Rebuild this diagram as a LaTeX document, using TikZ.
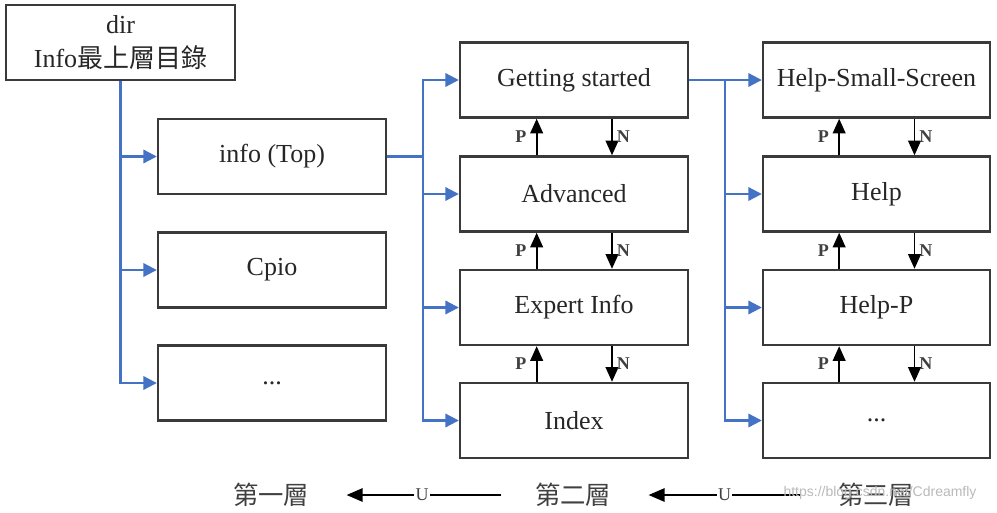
\documentclass[tikz,border=0pt]{standalone}
\usepackage{fontspec}
\setmainfont{Liberation Serif}
\newfontfamily\cjk{Noto Sans CJK TC}
\newfontfamily\wmfont{Liberation Sans}
\usetikzlibrary{arrows.meta}
\definecolor{lnblue}{HTML}{4472C4}
\definecolor{bord}{HTML}{3A3A3A}
\begin{document}
\begin{tikzpicture}[x=0.75pt,y=-0.75pt,
  box/.style={draw=bord, line width=1.8pt, inner sep=0pt, text=black!85,
    font=\fontsize{19.5}{25}\selectfont, align=center},
  c0/.style={box, minimum width=171.75pt, minimum height=56.25pt},
  c1/.style={box, minimum width=171pt, minimum height=56.25pt},
  c2/.style={box, minimum width=171pt, minimum height=56.25pt},
  c3/.style={box, minimum width=170.25pt, minimum height=56.25pt},
  bline/.style={draw=lnblue, line width=1.6pt},
  barr/.style={bline, -{Triangle[length=10pt,width=10pt]}},
  pn/.style={draw=black, line width=1.4pt, -{Triangle[length=11pt,width=9.5pt]}},
  pnl/.style={font=\bfseries\fontsize{13.5}{15}\selectfont, text=black!75, inner sep=0pt},
  bt/.style={font=\cjk\fontsize{19}{22}\selectfont, text=black!75, inner sep=0pt},
  uarr/.style={draw=black, line width=1.4pt, -{Triangle[length=12pt,width=10pt]}},
  ul/.style={font=\fontsize{13.5}{15}\selectfont, text=black!75, fill=white, inner sep=1pt},
  wm/.style={font=\wmfont\fontsize{10.5}{12}\selectfont, text=gray!55, inner sep=0pt}
]
\path[use as bounding box] (0,0) rectangle (997,512);

% level 1
\node[c0] (dir) at (120.5,42.5) {dir\\Info{\cjk 最上層目錄}};
\node[c1] (info) at (272,156.5) {info (Top)};
\node[c1] (cpio) at (272,270) {Cpio};
\node[c1] (d1) at (272,383) {...};

% level 2
\node[c2] (gs) at (574,80) {Getting started};
\node[c2] (adv) at (574,194) {Advanced};
\node[c2] (exp) at (574,307.5) {Expert Info};
\node[c2] (idx) at (574,420.5) {Index};

% level 3
\node[c3] (hss) at (876.5,80) {Help-Small-Screen};
\node[c3] (help) at (876.5,194) {Help};
\node[c3] (hp) at (876.5,307.5) {Help-P};
\node[c3] (d3) at (876.5,420.5) {...};

% blue connectors
\draw[barr] (dir.south) |- (info.west);
\draw[barr] (dir.south) |- (cpio.west);
\draw[barr] (dir.south) |- (d1.west);

\coordinate (j1) at (423,156.5);
\draw[bline] (info.east) -- (j1);
\draw[barr] (j1) |- (gs.west);
\draw[barr] (j1) |- (adv.west);
\draw[barr] (j1) |- (exp.west);
\draw[barr] (j1) |- (idx.west);

\coordinate (j2) at (725,80);
\draw[barr] (gs.east) -- (hss.west);
\draw[barr] (j2) |- (help.west);
\draw[barr] (j2) |- (hp.west);
\draw[barr] (j2) |- (d3.west);

% P / N arrows
\foreach \up/\lo in {gs/adv, adv/exp, exp/idx, hss/help, help/hp, hp/d3}{
  \draw[pn] ([xshift=-28pt]\lo.north) -- ([xshift=-28pt]\up.south)
    node[pnl, midway, left=7pt] {P};
  \draw[pn] ([xshift=28.5pt]\up.south) -- ([xshift=28.5pt]\lo.north)
    node[pnl, midway, right=3pt] {N};
}

% bottom legend
\node[bt] (l1) at (271,495) {第一層};
\node[bt] (l2) at (573,495) {第二層};
\node[bt] (l3) at (876,495) {第三層};
\draw[uarr, shorten <=25pt, shorten >=28pt] (l2.west) -- (l1.east) node[ul, midway] {U};
\draw[uarr, shorten <=28pt, shorten >=28pt] (l3.west) -- (l2.east) node[ul, midway] {U};
\node[wm] (wm) at (880,493) {https://blog.csdn.net/Cdreamfly};
\end{tikzpicture}
\end{document}
